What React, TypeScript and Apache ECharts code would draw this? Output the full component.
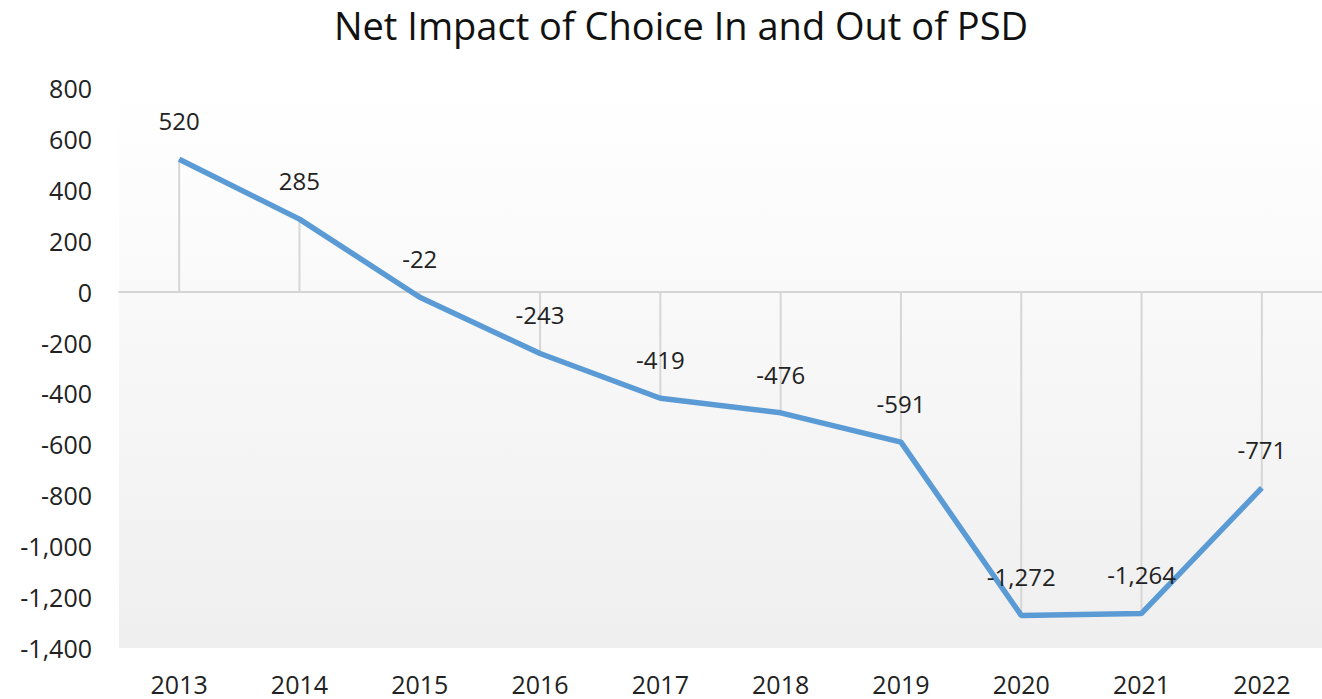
import React, { useEffect, useRef } from "react";
import * as echarts from "echarts";

const title = "Net Impact of Choice In and Out of PSD";
const years = ["2013", "2014", "2015", "2016", "2017", "2018", "2019", "2020", "2021", "2022"];
const netImpact = [520, 285, -22, -243, -419, -476, -591, -1272, -1264, -771];
const yMin = -1400;
const yMax = 800;
const yStep = 200;

const FONT = "'Open Sans', 'Liberation Sans', sans-serif";

export default function App() {
  const ref = useRef<HTMLDivElement>(null);
  useEffect(() => {
    if (!ref.current) return;
    const chart = echarts.init(ref.current, null, { renderer: "svg" });
    const fmt = (v: number) => v.toLocaleString("en-US");
    chart.setOption({
      animation: false,
      backgroundColor: "#ffffff",
      title: {
        text: title,
        left: 681,
        textAlign: "center",
        top: 6,
        padding: 0,
        textStyle: {
          fontFamily: FONT,
          fontSize: 38,
          lineHeight: 38,
          fontWeight: "normal",
          color: "#111111",
        },
      },
      grid: {
        left: 119,
        width: 1214,
        top: 88,
        bottom: 51,
        show: true,
        borderWidth: 0,
        backgroundColor: new echarts.graphic.LinearGradient(0, 0, 0, 1, [
          { offset: 0, color: "#ffffff" },
          { offset: 1, color: "#efefef" },
        ]),
      },
      xAxis: [
        {
          type: "category",
          data: years,
          axisLine: { show: true, onZero: true, lineStyle: { color: "#d4d4d4", width: 2 } },
          axisTick: { show: false },
          axisLabel: { show: false },
          splitLine: { show: false },
        },
        {
          type: "category",
          data: years,
          position: "bottom",
          axisLine: { show: false, onZero: false },
          axisTick: { show: false },
          axisLabel: {
            show: true,
            fontFamily: FONT,
            fontSize: 25,
            lineHeight: 25,
            color: "#222222",
            margin: 23,
          },
          splitLine: { show: false },
        },
      ],
      yAxis: {
        type: "value",
        min: yMin,
        max: yMax,
        interval: yStep,
        axisLine: { show: false },
        axisTick: { show: false },
        splitLine: { show: false },
        axisLabel: {
          fontFamily: FONT,
          fontSize: 25,
          color: "#222222",
          margin: 27,
          formatter: (v: number) => fmt(v),
        },
      },
      series: [
        {
          type: "bar",
          xAxisIndex: 0,
          data: netImpact,
          barWidth: 2,
          itemStyle: { color: "#d6d6d6" },
          silent: true,
          z: 1,
        },
        {
          type: "line",
          xAxisIndex: 0,
          data: netImpact,
          symbol: "circle",
          symbolSize: 1,
          showSymbol: true,
          itemStyle: { color: "#5b9bd5", opacity: 0 },
          lineStyle: { color: "#5b9bd5", width: 5.5 },
          z: 3,
          label: {
            show: true,
            position: "top",
            distance: 26,
            fontFamily: FONT,
            fontSize: 24,
            color: "#222222",
            opacity: 1,
            formatter: (p: any) => fmt(p.value),
          },
        },
      ],
    });
    return () => chart.dispose();
  }, []);
  return (
    <div
      ref={ref}
      style={{ position: "fixed", left: 0, top: 0, width: 1322, height: 699 }}
    />
  );
}
